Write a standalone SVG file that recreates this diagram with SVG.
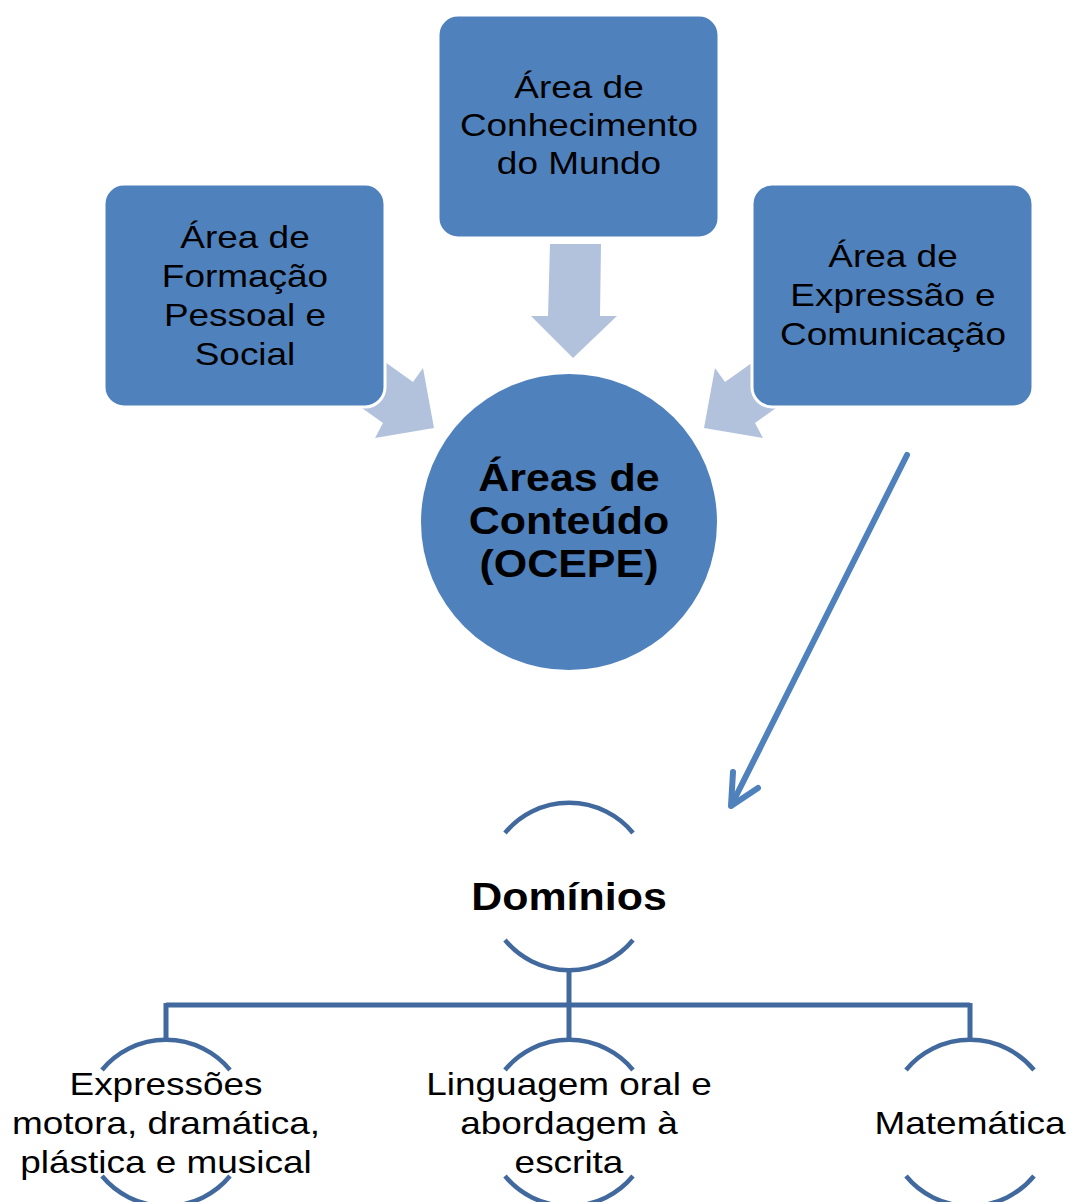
<svg xmlns="http://www.w3.org/2000/svg" width="1069" height="1202" viewBox="0 0 1069 1202">
<style>
.box{fill:#4F81BD;stroke:#fff;stroke-width:3}
.big{fill:#B2C2DD}
.t{font-family:"Liberation Sans",Arial,sans-serif;font-size:32px;fill:#000;text-anchor:middle}
.b{font-family:"Liberation Sans",Arial,sans-serif;font-size:38px;font-weight:bold;fill:#000;text-anchor:middle}
.arc{fill:none;stroke:#41699D;stroke-width:4.5}
.ln{fill:none;stroke:#41699D;stroke-width:5}
</style>
<rect width="1069" height="1202" fill="#fff"/>
<g id="connectors">
<polygon class="big" points="550,244 601,244 600,316 617,316 573,358 531,316 548,316"/>
<polygon class="big" points="357,342 413,382 423,368 434,428 375,438 383,423 327,383"/>
<polygon class="big" points="781,342 725,382 715,368 704,428 763,438 755,423 811,383"/>
<g fill="none" stroke="#4F81BD" stroke-width="6" stroke-linecap="round" stroke-linejoin="round">
<line x1="907" y1="455" x2="732" y2="804"/>
<polyline points="733,772 731,806 758,788"/>
</g>
<path class="ln" d="M569,970 V1005 M166,1005 H970 M166,1003 V1040 M569,1005 V1040 M970,1003 V1040"/>
</g>
<g id="node-top"><rect class="box" x="438" y="15" width="281" height="223" rx="20"/>
<g transform="translate(579 0) scale(1.155 1)"><text class="t" x="0" y="98">Área de</text><text class="t" x="0" y="136">Conhecimento</text><text class="t" x="0" y="174">do Mundo</text></g></g>
<g id="node-left"><rect class="box" x="104" y="184" width="281" height="223" rx="20"/>
<g transform="translate(245 0) scale(1.155 1)"><text class="t" x="0" y="248">Área de</text><text class="t" x="0" y="287">Formação</text><text class="t" x="0" y="326">Pessoal e</text><text class="t" x="0" y="365">Social</text></g></g>
<g id="node-right"><rect class="box" x="752" y="184" width="281" height="223" rx="20"/>
<g transform="translate(893 0) scale(1.155 1)"><text class="t" x="0" y="267">Área de</text><text class="t" x="0" y="306">Expressão e</text><text class="t" x="0" y="345">Comunicação</text></g></g>
<g id="node-center"><circle cx="569" cy="522" r="148" fill="#4F81BD"/>
<g transform="translate(569 0) scale(1.13 1)"><text class="b" x="0" y="491">Áreas de</text><text class="b" x="0" y="534">Conteúdo</text><text class="b" x="0" y="577">(OCEPE)</text></g></g>
<g id="node-dominios"><path class="arc" d="M505,833 A83,83 0 0 1 633,833 M505,940 A83,83 0 0 0 633,940"/>
<g transform="translate(569 0) scale(1.13 1)"><text class="b" x="0" y="910">Domínios</text></g></g>
<g id="node-expressoes"><path class="arc" d="M102,1070 A83,83 0 0 1 230,1070 M102,1176 A83,83 0 0 0 230,1176"/>
<g transform="translate(166 0) scale(1.155 1)"><text class="t" x="0" y="1095">Expressões</text><text class="t" x="0" y="1134">motora, dramática,</text><text class="t" x="0" y="1173">plástica e musical</text></g></g>
<g id="node-linguagem"><path class="arc" d="M505,1070 A83,83 0 0 1 633,1070 M505,1176 A83,83 0 0 0 633,1176"/>
<g transform="translate(569 0) scale(1.155 1)"><text class="t" x="0" y="1095">Linguagem oral e</text><text class="t" x="0" y="1134">abordagem à</text><text class="t" x="0" y="1173">escrita</text></g></g>
<g id="node-matematica"><path class="arc" d="M906,1070 A83,83 0 0 1 1034,1070 M906,1176 A83,83 0 0 0 1034,1176"/>
<g transform="translate(970 0) scale(1.155 1)"><text class="t" x="0" y="1134">Matemática</text></g></g>
</svg>
